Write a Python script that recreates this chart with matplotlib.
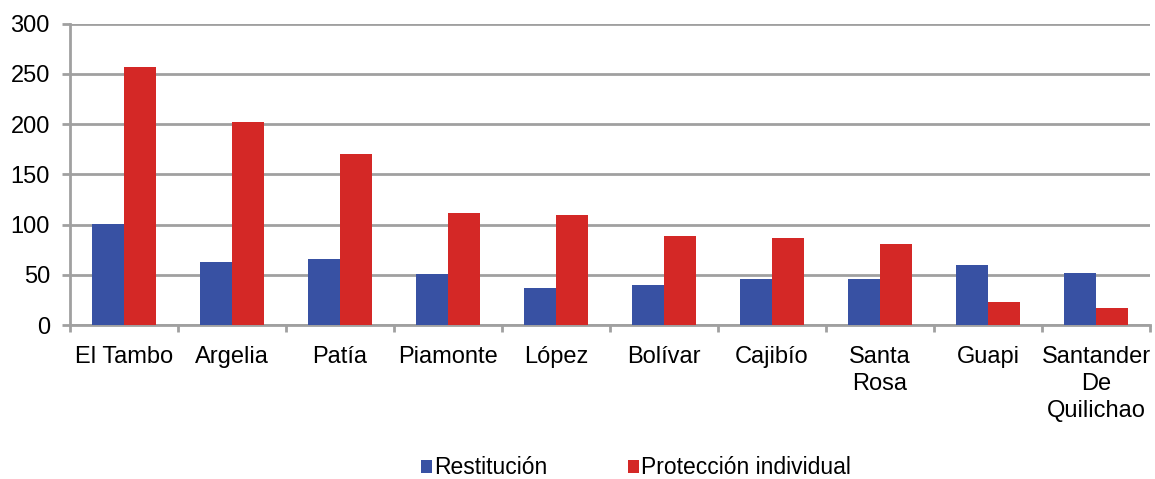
import matplotlib
matplotlib.use("Agg")
import matplotlib.pyplot as plt
import numpy as np
from matplotlib.ticker import FixedLocator

categories = ["El Tambo", "Argelia", "Patía", "Piamonte", "López", "Bolívar",
              "Cajibío", "Santa\nRosa", "Guapi", "Santander\nDe\nQuilichao"]
restitucion = [101, 63, 66, 51, 37, 40, 46, 46, 60, 52]
proteccion = [257, 202, 170, 112, 110, 89, 87, 81, 23, 17]
series_names = ["Restitución", "Protección individual"]
y_ticks = [0, 50, 100, 150, 200, 250, 300]

plt.rcParams['font.family'] = ['Liberation Sans', 'DejaVu Sans']
FS = 17

fig = plt.figure(figsize=(11.55, 4.79), dpi=100)
ax = fig.add_axes([70/1155, 1-325/479, 1080/1155, (325-23.7)/479])

x = np.arange(len(categories))
w = 0.296
blue = "#3851A3"
red = "#D42826"
ax.bar(x - w/2, restitucion, width=w, color=blue, label=series_names[0], zorder=3)
ax.bar(x + w/2, proteccion, width=w, color=red, label=series_names[1], zorder=3)

ax.set_xlim(-0.5, len(categories) - 0.5)
ax.set_ylim(0, 300)
ax.set_yticks(y_ticks)
ax.yaxis.grid(True, color="#A0A0A0", linewidth=2, zorder=0)
ax.set_axisbelow(True)

for s in ["top", "right"]:
    ax.spines[s].set_visible(False)
for s in ["left", "bottom"]:
    ax.spines[s].set_color("#A0A0A0")
    ax.spines[s].set_linewidth(2)

ax.set_xticks(x)
ax.set_xticklabels(categories, fontsize=FS, linespacing=1.3, va="top")
ax.xaxis.set_minor_locator(FixedLocator(np.arange(len(categories) + 1) - 0.5))
ax.tick_params(axis="x", which="major", length=0, pad=15)
ax.tick_params(axis="x", which="minor", length=5, width=2, color="#A0A0A0")
ax.tick_params(axis="y", length=6, width=2, color="#A0A0A0", labelsize=FS, pad=8.5)

fig.legend(loc="center", bbox_to_anchor=(0.5506, 1-468/479), ncol=2, frameon=False,
           fontsize=16.5, handlelength=0.48, handleheight=0.48, handletextpad=0.12,
           columnspacing=3.5)

fig.savefig("out.png", dpi=100)
